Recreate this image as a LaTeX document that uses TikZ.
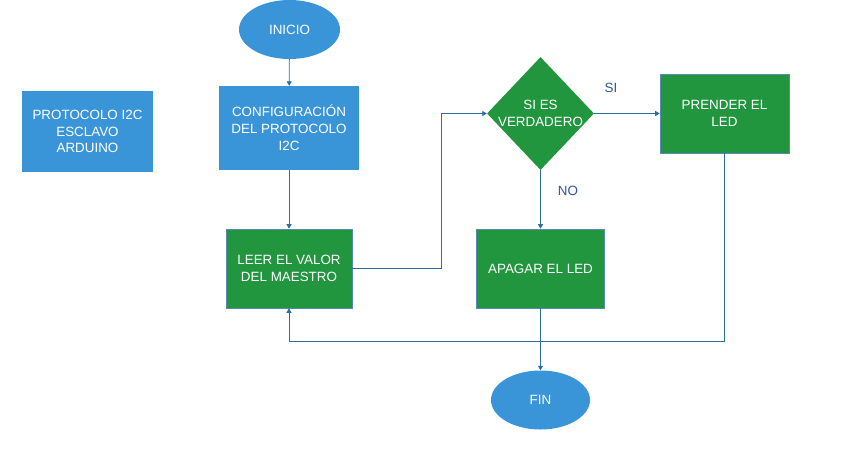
\documentclass[tikz,border=0pt]{standalone}
\usepackage{fontspec}
\setmainfont{Liberation Sans}
\usetikzlibrary{shapes.geometric,arrows.meta}
\definecolor{bblue}{HTML}{3A94D8}
\definecolor{bgreen}{HTML}{21963F}
\definecolor{lineblue}{HTML}{2E6DA4}
\definecolor{lbl}{HTML}{2F5597}
\begin{document}
\begin{tikzpicture}[x=1pt,y=-1pt,
  txtfont/.style={font=\fontsize{13.4}{16.8}\selectfont},
  box/.style={rectangle, inner sep=0pt, align=center, text=white, txtfont},
  bluebox/.style={box, fill=bblue},
  greenbox/.style={box, fill=bgreen, draw=lineblue!80, line width=0.6pt},
  term/.style={ellipse, fill=bblue, inner sep=0pt, text=white, txtfont},
  decision/.style={diamond, fill=bgreen, inner sep=0pt},
  dtext/.style={align=center, text=white, inner sep=0pt, txtfont},
  conn/.style={draw=lineblue, line width=0.8pt, -{Triangle[width=5pt,length=4.5pt]}},
  lab/.style={text=lbl, txtfont, inner sep=0pt}]
\useasboundingbox (0,0) rectangle (845,466);

\node[term, minimum width=101pt, minimum height=59pt] (inicio) at (289.5,29.5) {INICIO};
\node[bluebox, minimum width=131pt, minimum height=81pt] (proto) at (87.5,131.5) {PROTOCOLO I2C\\ESCLAVO\\ARDUINO};
\node[bluebox, minimum width=140pt, minimum height=84pt] (config) at (289,128) {CONFIGURACIÓN\\DEL PROTOCOLO\\I2C};
\node[greenbox, minimum width=126pt, minimum height=79pt] (leer) at (289,268.5) {LEER EL VALOR\\DEL MAESTRO};
\node[decision, minimum width=107pt, minimum height=113pt] (dec) at (540.5,113.5) {};
\node[dtext] (dect) at (dec) {SI ES\\VERDADERO};
\node[greenbox, minimum width=129pt, minimum height=79pt] (prender) at (724.5,113.5) {PRENDER EL\\LED};
\node[greenbox, minimum width=128pt, minimum height=79pt] (apagar) at (540.5,268.5) {APAGAR EL LED};
\node[term, minimum width=99pt, minimum height=59pt] (fin) at (540.5,400) {FIN};

\node[lab] (si) at (611,88) {SI};
\node[lab] (no) at (568,191) {NO};

\coordinate (j1) at (441.5,268.5);
\coordinate (j2) at (724.5,341.5);

\draw[conn] (inicio) -- (config);
\draw[conn] (config) -- (leer);
\draw[conn] (leer.east) -- (j1) |- (dec.west);
\draw[conn] (dec.east) -- (prender.west);
\draw[conn] (dec.south) -- (apagar.north);
\draw[conn] (prender.south) -- (j2) -| (leer.south);
\draw[conn] (apagar) -- (fin);
\end{tikzpicture}
\end{document}
